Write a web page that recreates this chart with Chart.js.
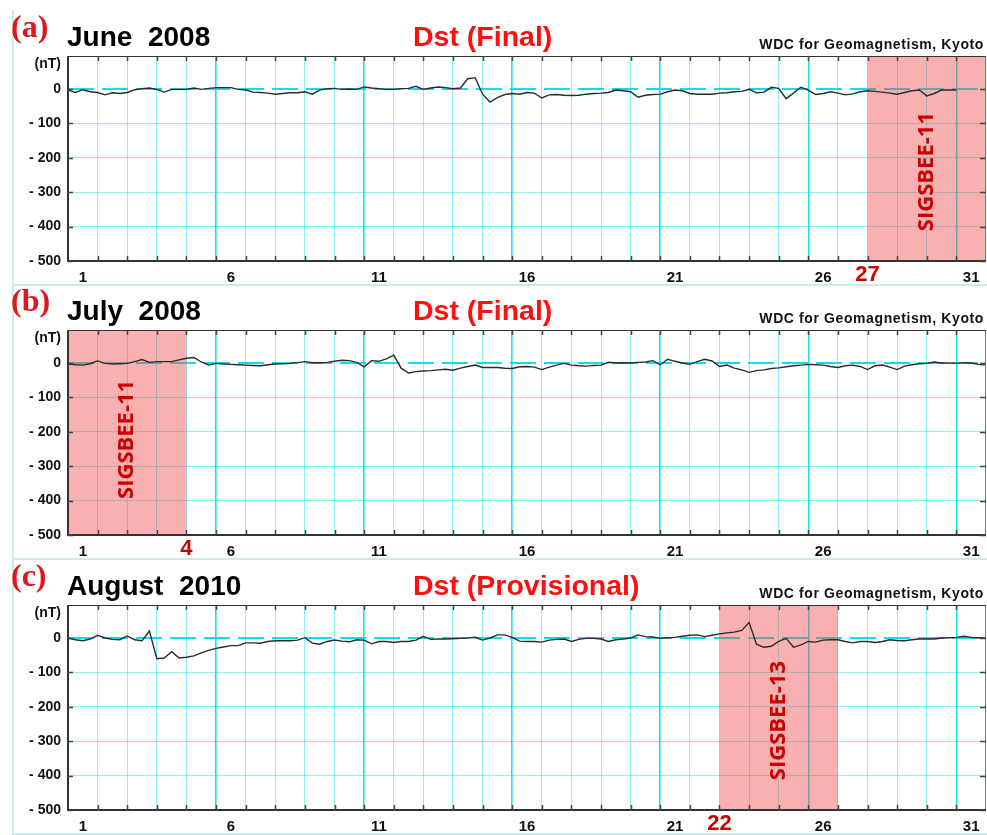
<!DOCTYPE html>
<html><head><meta charset="utf-8">
<script src="https://cdn.jsdelivr.net/npm/chart.js@4"></script>
<style>
html,body{margin:0;padding:0;background:#fff;}
body{width:987px;height:835px;position:relative;overflow:hidden;font-family:"Liberation Sans",Arial,sans-serif;}
.panel{position:absolute;left:0;width:987px;height:274px;}
.frame{position:absolute;left:12px;top:0;width:975px;height:276px;border-left:2px solid #cfe8e8;border-bottom:2px solid #cfe8e8;box-sizing:border-box;}
canvas{position:absolute;left:0;top:0;}
.t{position:absolute;white-space:pre;line-height:1;font-weight:bold;z-index:2;}
.tag{left:11px;top:0;font-family:"Liberation Serif",serif;font-size:32px;color:#e3161b;}
.month{left:67px;top:13px;font-size:28px;color:#000;}
.dst{left:413px;top:12px;font-size:28.5px;color:#ff1010;}
.wdc{right:3px;top:27px;font-size:14px;color:#111;letter-spacing:0.6px;}
.nt{right:926px;top:46px;font-size:14px;color:#111;}
</style></head>
<body>
<script>
// ---------- data ----------
const panelTags = ['(a)', '(b)', '(c)'];
const monthTitles = ['June  2008', 'July  2008', 'August  2010'];
const dstTitles = ['Dst (Final)', 'Dst (Final)', 'Dst (Provisional)'];
const creditText = 'WDC for Geomagnetism, Kyoto';
const unitLabel = '(nT)';
const dayTickLabels = ['1', '6', '11', '16', '21', '26', '31'];
const yTickValues = [-500, -400, -300, -200, -100, 0];
const yMin = -500;
const yMax = 96;
const daysShown = 31;
const samplesPerDay = 4;

// Dst (nT), 4 samples per day starting at 00 UT of day 1
const juneDst = [
  -3, -10, -2, -8,   -10, -17, -11, -13,   -10, -2, 1, 3,   -1, -9, -1, -1,
  -1, 3, -1, 2,      4, 4, 4, -1,          -3, -9, -10, -12, -15, -13, -11, -11,
  -8, -15, -3, 1,    2, -1, 0, -1,         6, 3, 1, -1,     -1, 1, 2, 8,
  -1, 3, 6, 4,       1, 3, 30, 33,         -15, -38, -25, -16, -13, -15, -10, -12,
  -26, -17, -16, -18, -19, -18, -15, -13,  -12, -10, -3, -5, -8, -24, -18, -16,
  -15, -8, -3, -5,   -13, -15, -15, -15,   -12, -11, -8, -7, -1, -11, -9, 5,
  2, -28, -12, 5,    -3, -16, -13, -8,     -12, -17, -14, -8, -5, -7, -9, -12,
  -15, -10, -5, -3,  -20, -13, -3, -3,     -3
];
const julyDst = [
  -3, -5, -6, -2,    6, -1, -3, -2,        -1, 4, 10, 2,    4, 4, 4, 9,
  14, 16, 3, -6,     -1, -3, -4, -5,       -6, -7, -8, -5,  -3, -2, -1, 1,
  4, 1, 1, 2,        5, 8, 7, 2,           -11, 7, 5, 12,   23, -15, -29, -25,
  -23, -22, -20, -18, -21, -15, -10, -6,   -13, -13, -13, -15, -16, -11, -10, -12,
  -19, -12, -6, -1,  -6, -8, -9, -7,       -6, 2, 0, 1,     0, 2, 3, 7,
  -5, 11, 5, 0,      -4, 4, 11, 6,         -10, -6, -15, -20, -27, -22, -20, -16,
  -14, -11, -8, -6,  -4, -5, -6, -10,      -13, -8, -6, -10, -19, -8, -6, -12,
  -19, -9, -5, -2,   -1, 3, 0, 0,          -1, 1, 0, -4,    -6
];
const augustDst = [
  0, -5, -8, -3,     8, 0, -4, -5,         6, -5, -8, 20,   -60, -58, -40, -58,
  -56, -52, -43, -36, -30, -26, -22, -22,  -14, -14, -15, -10, -8, -8, -8, -6,
  1, -15, -18, -10,  -6, -9, -11, -5,      -6, -17, -10, -10, -13, -10, -10, -6,
  5, -4, -3, -3,     -2, -1, 0, 2,         -6, 0, 9, 9,     2, -9, -10, -10,
  -12, -6, -4, -3,   -10, -4, -1, -1,      -3, -10, -5, -3, 0, 9, 4, 3,
  -1, 1, 2, 5,       8, 9, 4, 8,           12, 15, 17, 22,  45, -18, -27, -24,
  -10, -1, -27, -20, -10, -12, -6, -5,     -5, -10, -14, -10, -10, -13, -10, -5,
  -7, -8, -5, -3,    -3, -3, 0, 1,         2, 5, 2, 1,      0
];
const panelSeries = [juneDst, julyDst, augustDst];

// cruise periods (day offsets from start of month)
const eventNames = ['SIGSBEE-11', 'SIGSBEE-11', 'SIGSBEE-13'];
const eventStartDay = [27, 0, 22];
const eventEndDay = [31, 4, 26];
const eventMarkValue = [27, 4, 22];
const eventMarkLabels = ['27', '4', '22'];

// ---------- layout (positions / styles) ----------
const panelTop = [10, 284, 559];
const eventTextLevel = [-240, -222, -240];
const FONT = '"Liberation Sans", Arial, sans-serif';

function el(tag, cls, text, parent) {
  const e = document.createElement(tag);
  if (cls) e.className = cls;
  if (text != null) e.textContent = text;
  parent.appendChild(e);
  return e;
}

function decorPlugin(p) {
  return {
    id: 'decor' + p,
    beforeDatasetsDraw(chart) {
      const ctx = chart.ctx, a = chart.chartArea;
      const x = chart.scales.x, y = chart.scales.y;
      ctx.save();
      // dashed zero line
      const y0 = Math.round(y.getPixelForValue(0));
      ctx.strokeStyle = 'rgba(0,215,230,0.9)';
      ctx.lineWidth = 2;
      ctx.setLineDash([26, 8]);
      ctx.beginPath(); ctx.moveTo(a.left, y0); ctx.lineTo(a.right, y0); ctx.stroke();
      ctx.setLineDash([]);
      // cruise shading
      const xs = x.getPixelForValue(eventStartDay[p]);
      const xe = x.getPixelForValue(eventEndDay[p]);
      ctx.fillStyle = 'rgba(240,80,80,0.45)';
      ctx.fillRect(xs, a.top, xe - xs, a.bottom - a.top);
      // cruise name
      ctx.translate((xs + xe) / 2, y.getPixelForValue(eventTextLevel[p]));
      ctx.rotate(-Math.PI / 2);
      ctx.font = 'bold 22px "Open Sans", "Liberation Sans", sans-serif';
      ctx.fillStyle = '#cc0000';
      ctx.textAlign = 'center';
      ctx.textBaseline = 'middle';
      ctx.fillText(eventNames[p], 0, 0);
      ctx.restore();
    },
    afterDatasetsDraw(chart) {
      const ctx = chart.ctx, a = chart.chartArea;
      const x = chart.scales.x, y = chart.scales.y;
      ctx.save();
      // frame
      ctx.strokeStyle = '#7a7a7a'; ctx.lineWidth = 1;
      ctx.beginPath(); ctx.moveTo(a.right - 0.5, a.top); ctx.lineTo(a.right - 0.5, a.bottom); ctx.stroke();
      ctx.strokeStyle = '#333';
      ctx.beginPath(); ctx.moveTo(a.left, a.top + 0.5); ctx.lineTo(a.right, a.top + 0.5); ctx.stroke();
      ctx.lineWidth = 2;
      ctx.beginPath(); ctx.moveTo(a.left, a.top); ctx.lineTo(a.left, a.bottom); ctx.lineTo(a.right, a.bottom); ctx.stroke();
      // inward tick marks
      ctx.lineWidth = 1.5; ctx.strokeStyle = '#444';
      ctx.beginPath();
      for (let d = 1; d < daysShown; d++) {
        const px = Math.round(x.getPixelForValue(d)) + 0.5;
        ctx.moveTo(px, a.bottom); ctx.lineTo(px, a.bottom - 5);
        ctx.moveTo(px, a.top); ctx.lineTo(px, a.top + 5);
      }
      for (const v of yTickValues) {
        const py = Math.round(y.getPixelForValue(v)) + 0.5;
        ctx.moveTo(a.left, py); ctx.lineTo(a.left + 5, py);
        ctx.moveTo(a.right, py); ctx.lineTo(a.right - 6, py);
      }
      ctx.stroke();
      ctx.restore();
    }
  };
}

function buildPanel(p) {
  const panel = el('div', 'panel', null, document.body);
  panel.style.top = panelTop[p] + 'px';
  el('div', 'frame', null, panel);
  const cv = el('canvas', null, null, panel);
  cv.width = 987; cv.height = 274;
  el('div', 't tag', panelTags[p], panel);
  el('div', 't month', monthTitles[p], panel);
  el('div', 't dst', dstTitles[p], panel);
  el('div', 't wdc', creditText, panel);
  el('div', 't nt', unitLabel, panel);

  const series = panelSeries[p];
  const points = series.map((v, i) => ({ x: i / samplesPerDay, y: v }));
  const labelValues = dayTickLabels.map(l => Number(l) - 0.5);
  const markVal = eventMarkValue[p];
  const labelTicks = labelValues.concat([markVal]).sort((a, b) => a - b);

  new Chart(cv, {
    type: 'line',
    data: {
      datasets: [{
        data: points,
        borderColor: '#2b2b2b',
        borderWidth: 1.4,
        pointRadius: 0,
        tension: 0,
        fill: false
      }]
    },
    options: {
      responsive: false,
      animation: false,
      devicePixelRatio: 1,
      layout: { padding: { top: 46, right: 1, left: 0, bottom: 0 } },
      plugins: { legend: { display: false }, tooltip: { enabled: false } },
      scales: {
        x: {
          type: 'linear', position: 'bottom', min: 0, max: daysShown,
          afterBuildTicks: s => { s.ticks = Array.from({ length: daysShown + 1 }, (_, d) => ({ value: d })); },
          afterFit: s => { s.height = 0; },
          ticks: { display: false },
          border: { display: false },
          grid: {
            drawTicks: false,
            color: c => {
              const v = c.tick ? c.tick.value : 0;
              if (v === 0 || v === daysShown) return 'rgba(0,0,0,0)';
              return v % 5 === 0 ? 'rgba(0,222,235,0.9)' : 'rgba(0,225,235,0.45)';
            },
            lineWidth: c => (c.tick && c.tick.value % 5 === 0 ? 1.6 : 1)
          }
        },
        xl: {
          type: 'linear', position: 'bottom', min: 0, max: daysShown,
          afterBuildTicks: s => { s.ticks = labelTicks.map(v => ({ value: v })); },
          afterFit: s => { s.height = 23; },
          grid: { display: false, drawTicks: false },
          border: { display: false },
          ticks: {
            autoSkip: false, maxRotation: 0, padding: 6,
            callback: v => (v === markVal ? eventMarkLabels[p] : String(Math.round(v + 0.5))),
            color: c => (c.tick && c.tick.value === markVal ? '#cc0000' : '#111'),
            font: c => (c.tick && c.tick.value === markVal
              ? { family: FONT, size: 22, weight: 'bold', lineHeight: 0.75 }
              : { family: FONT, size: 15, weight: 'bold', lineHeight: 1.5 })
          }
        },
        y: {
          type: 'linear', position: 'left', min: yMin, max: yMax,
          afterBuildTicks: s => { s.ticks = yTickValues.map(v => ({ value: v })); },
          afterFit: s => { s.width = 68; },
          border: { display: false },
          grid: {
            drawTicks: false,
            color: c => {
              const v = c.tick ? c.tick.value : 0;
              return (v === 0 || v === yMin) ? 'rgba(0,0,0,0)' : 'rgba(0,225,235,0.45)';
            }
          },
          ticks: {
            padding: 7, color: '#111',
            font: { family: FONT, size: 14, weight: 'bold' },
            callback: v => (v === 0 ? '0' : '- ' + Math.abs(v))
          }
        }
      }
    },
    plugins: [decorPlugin(p)]
  });
}

[0, 1, 2].forEach(buildPanel);
</script>
</body></html>
